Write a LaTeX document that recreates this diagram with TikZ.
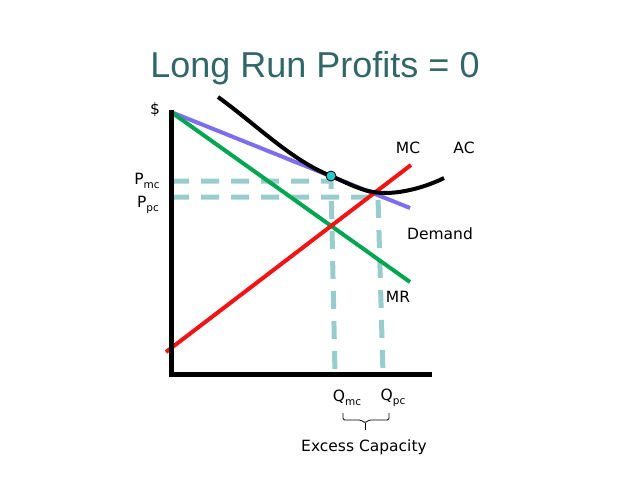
\documentclass[tikz,border=0pt]{standalone}
\usepackage{fontspec}
\setmainfont{DejaVu Sans}
\newfontfamily\titlefont{Liberation Sans}
\definecolor{titlecol}{RGB}{51,102,102}
\definecolor{demcol}{RGB}{125,110,240}
\definecolor{mrcol}{RGB}{0,166,81}
\definecolor{mccol}{RGB}{240,20,20}
\definecolor{dashcol}{RGB}{153,204,204}
\definecolor{dotcol}{RGB}{40,200,200}
\newcommand{\lowsub}[1]{\raisebox{-4pt}{\fontsize{10.5}{10}\selectfont #1}}
\begin{document}
\begin{tikzpicture}[x=1pt,y=-1pt,
  lbl/.style={font=\fontsize{15.5}{18}\selectfont, inner sep=0pt},
  axisline/.style={line width=5pt, black},
  curveline/.style={line width=4pt},
  guide/.style={line width=5pt, dashcol, dash pattern=on 18pt off 12pt}]
\useasboundingbox (0,0) rectangle (640,480);
\node[font=\titlefont\fontsize{36}{40}\selectfont, text=titlecol] (title) at (315,68) {Long Run Profits = 0};
% coordinates
\coordinate (O) at (171,374);
\coordinate (Ytop) at (171,112);
\coordinate (Xend) at (432,374);
\coordinate (Dend) at (410,208);
\coordinate (MRend) at (410,282);
\coordinate (MCa) at (166,352);
\coordinate (MCb) at (411,165);
\coordinate (T) at (331,176);
\coordinate (Pmc) at (171,181);
\coordinate (Ppc) at (171,197);
\coordinate (Cmc) at (331,181);
\coordinate (Cpc) at (378,197);
\coordinate (Qmc) at (335,374);
\coordinate (Qpc) at (383,374);
% guides
\draw[guide] (Pmc) -- (Cmc) -- (Qmc);
\draw[guide] (Ppc) -- (Cpc) -- (Qpc);
% curves
\draw[curveline, demcol] (Ytop) -- (Dend);
\draw[curveline, mrcol] (Ytop) -- (MRend);
\draw[curveline, mccol] (MCa) -- (MCb);
\draw[curveline, black] (218,97) .. controls (258,126) and (291,160) .. (T)
   .. controls (352,185) and (365,193) .. (385,193)
   .. controls (405,193) and (428,186) .. (444,178);
% axes
\draw[axisline] (171,110) -- (O) -- (Xend);
\node[circle, draw=black, fill=dotcol, line width=0.8pt, minimum size=10pt, inner sep=0pt] (dot) at (T) {};
% labels
\node[lbl] (dollar) at (155,110) {\$};
\node[lbl] (pmc) at (147,181) {P\lowsub{mc}};
\node[lbl] (ppc) at (148,205) {P\lowsub{pc}};
\node[lbl] (mc) at (408,148) {MC};
\node[lbl] (ac) at (464,148) {AC};
\node[lbl] (dem) at (440,234) {Demand};
\node[lbl] (mr) at (398,297) {MR};
\node[lbl] (qmc) at (347,398) {Q\lowsub{mc}};
\node[lbl] (qpc) at (393,398) {Q\lowsub{pc}};
\coordinate (bl) at (343,413);
\coordinate (br) at (389,413);
\coordinate (bm) at (365,423);
\draw[line width=0.8pt, rounded corners=1.5pt] (bl) -- (343,420) -- (361,420) -- (bm) -- (369,420) -- (389,420) -- (br);
\draw[line width=0.8pt] (bm) -- (365,430);
\node[lbl] (exc) at (364,447) {Excess Capacity};
\end{tikzpicture}
\end{document}
